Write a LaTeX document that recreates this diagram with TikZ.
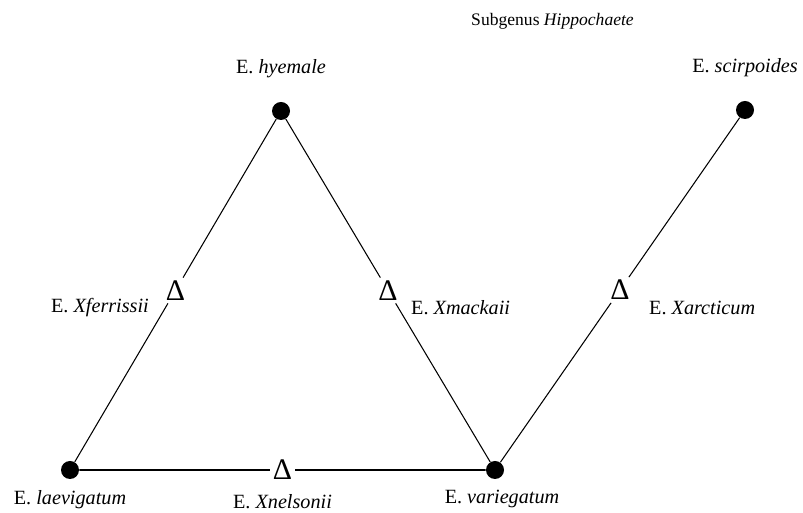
\documentclass[tikz,border=0pt]{standalone}
\usepackage{fontspec}
\setmainfont{Liberation Serif}
\usetikzlibrary{positioning, calc}

\begin{document}
\begin{tikzpicture}[
    species/.style={circle, fill=black, inner sep=0pt, minimum size=0.36cm},
    hybrid/.style={inner sep=1.5pt, font=\fontsize{17}{17}\selectfont},
    taxon/.style={font=\fontsize{11.5}{13}\selectfont\itshape},
    link/.style={line width=0.6pt},
]
\useasboundingbox (0,0) rectangle (16.06,10.26);

% --- Title ---
\node[font=\fontsize{10}{12}\selectfont] (title) at (11.05,9.84)
    {Subgenus \textit{Hippochaete}};

% --- Parent species ---
\node[species] (hyemale)    at (5.62,8.04) {};
\node[species] (scirpoides) at (14.90,8.06) {};
\node[species] (laevigatum) at (1.40,0.86) {};
\node[species] (variegatum) at (9.90,0.86) {};

\node[taxon, above=0.35cm of hyemale]    (hyemaleLbl)    {\upshape E. \itshape hyemale};
\node[taxon, above=0.35cm of scirpoides] (scirpoidesLbl) {\upshape E. \itshape scirpoides};
\node[taxon, below=0.1cm of laevigatum]  (laevigatumLbl) {\upshape E. \itshape laevigatum};
\node[taxon, below=0.1cm of variegatum, xshift=0.14cm] (variegatumLbl) {\upshape E. \itshape variegatum};

% --- Hybrids, halfway between their parents ---
\node[hybrid] (ferrissii) at ($(hyemale)!0.5!(laevigatum)$) {Δ};
\node[hybrid] (mackaii)   at ($(hyemale)!0.5!(variegatum)$) {Δ};
\node[hybrid] (nelsonii)  at ($(laevigatum)!0.5!(variegatum)$) {Δ};
\node[hybrid] (arcticum)  at ($(scirpoides)!0.5!(variegatum)$) {Δ};

\node[taxon, anchor=east] (ferrissiiLbl) at (3.10,4.10)  {\upshape E. \itshape Xferrissii};
\node[taxon, anchor=west] (mackaiiLbl)   at (8.10,4.10)  {\upshape E. \itshape Xmackaii};
\node[taxon, below=0.1cm of nelsonii]    (nelsoniiLbl)   {\upshape E. \itshape Xnelsonii};
\node[taxon, anchor=west] (arcticumLbl)  at (12.86,4.10) {\upshape E. \itshape Xarcticum};

% --- Crosses ---
\draw[link] (hyemale) -- (ferrissii) -- (laevigatum);
\draw[link] (hyemale) -- (mackaii) -- (variegatum);
\draw[link] (scirpoides) -- (arcticum) -- (variegatum);
\draw[link, line width=1pt] (laevigatum) -- (nelsonii) -- (variegatum);

\end{tikzpicture}
\end{document}
